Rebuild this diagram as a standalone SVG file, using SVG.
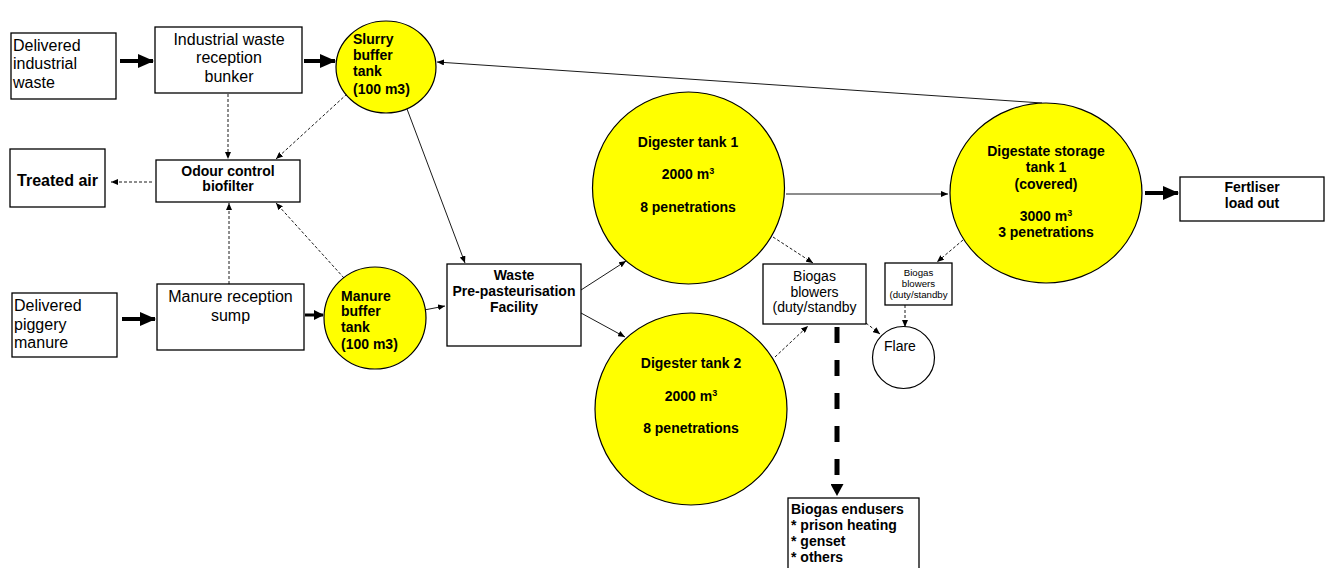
<svg xmlns="http://www.w3.org/2000/svg" width="1328" height="568" viewBox="0 0 1328 568">
<style>
.box{fill:#fff;stroke:#000;stroke-width:1.3}
.tank{fill:#ffff00;stroke:#000;stroke-width:1.2}
.flare{fill:#fff;stroke:#000;stroke-width:1.2}
text{font-family:"Liberation Sans",Arial,sans-serif;fill:#000}
.r16{font-size:16px}
.r14{font-size:14px}
.b14{font-size:14px;font-weight:bold}
.b16{font-size:16px;font-weight:bold}
.sm{font-size:9.7px}
.thick{stroke:#000;stroke-width:4;fill:none}
.mid{stroke:#000;stroke-width:3;fill:none}
.thin{stroke:#000;stroke-width:0.9;fill:none}
.dash{stroke:#000;stroke-width:0.9;fill:none;stroke-dasharray:3 2}
.bigdash{stroke:#000;stroke-width:5;fill:none;stroke-dasharray:16 17}
</style>
<defs>
<marker id="big" markerUnits="userSpaceOnUse" markerWidth="16" markerHeight="14" refX="15" refY="7" orient="auto"><path d="M0,0 L16,7 L0,14 Z" fill="#000"/></marker>
<marker id="med" markerUnits="userSpaceOnUse" markerWidth="10" markerHeight="10" refX="9" refY="5" orient="auto"><path d="M0,0 L10,5 L0,10 Z" fill="#000"/></marker>
<marker id="sm" markerUnits="userSpaceOnUse" markerWidth="7" markerHeight="6" refX="7" refY="3" orient="auto"><path d="M0,0 L7,3 L0,6 Z" fill="#000"/></marker>
<marker id="tri" markerUnits="userSpaceOnUse" markerWidth="13" markerHeight="13" refX="1" refY="6.5" orient="auto"><path d="M0,0 L12,6.5 L0,13 Z" fill="#000"/></marker>
</defs>

<g id="connectors">
<line class="thick" x1="120" y1="61" x2="153" y2="61" marker-end="url(#big)"/>
<line class="thick" x1="304" y1="61" x2="335" y2="61" marker-end="url(#big)"/>
<line class="thick" x1="122" y1="319" x2="155" y2="319" marker-end="url(#big)"/>
<line class="mid" x1="305" y1="315" x2="323" y2="315" marker-end="url(#med)"/>
<line class="thick" x1="1145" y1="193" x2="1178" y2="193" marker-end="url(#big)"/>
<line class="dash" x1="228" y1="94" x2="228" y2="159" marker-end="url(#sm)"/>
<line class="dash" x1="347" y1="94" x2="276" y2="159" marker-end="url(#sm)"/>
<line class="dash" x1="152" y1="182" x2="111" y2="182" marker-end="url(#sm)"/>
<line class="dash" x1="229" y1="284" x2="229" y2="203" marker-end="url(#sm)"/>
<line class="dash" x1="344" y1="278" x2="276" y2="203" marker-end="url(#sm)"/>
<line class="thin" x1="404" y1="101" x2="465" y2="263" marker-end="url(#sm)"/>
<line class="thin" x1="419" y1="311" x2="445" y2="306" marker-end="url(#sm)"/>
<line class="thin" x1="581" y1="290" x2="626" y2="261" marker-end="url(#sm)"/>
<line class="thin" x1="581" y1="313" x2="625" y2="337" marker-end="url(#sm)"/>
<line class="thin" x1="786" y1="194" x2="948" y2="194" marker-end="url(#sm)"/>
<line class="thin" x1="1042" y1="103" x2="437" y2="62" marker-end="url(#sm)"/>
<line class="dash" x1="773" y1="237" x2="813" y2="263" marker-end="url(#sm)"/>
<line class="dash" x1="775" y1="357" x2="808" y2="326" marker-end="url(#sm)"/>
<line class="dash" x1="866" y1="323" x2="880" y2="334" marker-end="url(#sm)"/>
<line class="dash" x1="905" y1="305" x2="905" y2="327" marker-end="url(#sm)"/>
<line class="dash" x1="963" y1="240" x2="937" y2="262" marker-end="url(#sm)"/>
<line class="bigdash" x1="837" y1="327" x2="837" y2="485" marker-end="url(#tri)"/>
</g>

<g id="delivered-industrial-waste">
<rect class="box" x="11" y="33" width="105" height="66"/>
<text class="r16" x="13" y="51">Delivered</text>
<text class="r16" x="13" y="69">industrial</text>
<text class="r16" x="13" y="88">waste</text>
</g>

<g id="industrial-waste-bunker">
<rect class="box" x="155" y="27" width="147" height="66"/>
<text class="r16" x="229" y="45" text-anchor="middle">Industrial waste</text>
<text class="r16" x="229" y="63" text-anchor="middle">reception</text>
<text class="r16" x="229" y="82" text-anchor="middle">bunker</text>
</g>

<g id="slurry-buffer-tank">
<ellipse class="tank" cx="386" cy="67" rx="50" ry="46"/>
<text class="b14" x="353" y="44">Slurry</text>
<text class="b14" x="353" y="60">buffer</text>
<text class="b14" x="353" y="76">tank</text>
<text class="b14" x="353" y="94">(100 m3)</text>
</g>

<g id="treated-air">
<rect class="box" x="10" y="149" width="95" height="58"/>
<text class="b16" x="57.5" y="186" text-anchor="middle">Treated air</text>
</g>

<g id="odour-control-biofilter">
<rect class="box" x="156" y="160" width="144" height="42"/>
<text class="b14" x="228" y="176" text-anchor="middle">Odour control</text>
<text class="b14" x="228" y="191" text-anchor="middle">biofilter</text>
</g>

<g id="delivered-piggery-manure">
<rect class="box" x="12" y="293" width="105" height="64"/>
<text class="r16" x="14" y="311">Delivered</text>
<text class="r16" x="14" y="330">piggery</text>
<text class="r16" x="14" y="348">manure</text>
</g>

<g id="manure-reception-sump">
<rect class="box" x="157" y="284" width="147" height="66"/>
<text class="r16" x="230.5" y="302" text-anchor="middle">Manure reception</text>
<text class="r16" x="230.5" y="321" text-anchor="middle">sump</text>
</g>

<g id="manure-buffer-tank">
<ellipse class="tank" cx="375" cy="318" rx="51" ry="51"/>
<text class="b14" x="341" y="301">Manure</text>
<text class="b14" x="341" y="316">buffer</text>
<text class="b14" x="341" y="332">tank</text>
<text class="b14" x="341" y="349">(100 m3)</text>
</g>

<g id="waste-pre-pasteurisation">
<rect class="box" x="447" y="264" width="134" height="82"/>
<text class="b14" x="514" y="280" text-anchor="middle">Waste</text>
<text class="b14" x="514" y="296" text-anchor="middle">Pre-pasteurisation</text>
<text class="b14" x="514" y="312" text-anchor="middle">Facility</text>
</g>

<g id="digester-tank-1">
<circle class="tank" cx="688.5" cy="188" r="96"/>
<text class="b14" x="688" y="147" text-anchor="middle">Digester tank 1</text>
<text class="b14" x="688" y="179" text-anchor="middle">2000 m<tspan font-size="9" dy="-5">3</tspan></text>
<text class="b14" x="688" y="212" text-anchor="middle">8 penetrations</text>
</g>

<g id="digester-tank-2">
<circle class="tank" cx="691" cy="409" r="96"/>
<text class="b14" x="691" y="368" text-anchor="middle">Digester tank 2</text>
<text class="b14" x="691" y="401" text-anchor="middle">2000 m<tspan font-size="9" dy="-5">3</tspan></text>
<text class="b14" x="691" y="433" text-anchor="middle">8 penetrations</text>
</g>

<g id="digestate-storage-tank">
<ellipse class="tank" cx="1046" cy="193" rx="96" ry="90"/>
<text class="b14" x="1046" y="156" text-anchor="middle">Digestate storage</text>
<text class="b14" x="1046" y="172" text-anchor="middle">tank 1</text>
<text class="b14" x="1046" y="189" text-anchor="middle">(covered)</text>
<text class="b14" x="1046" y="221" text-anchor="middle">3000 m<tspan font-size="9" dy="-5">3</tspan></text>
<text class="b14" x="1046" y="237" text-anchor="middle">3 penetrations</text>
</g>

<g id="fertiliser-load-out">
<rect class="box" x="1180" y="177" width="144" height="44"/>
<text class="b14" x="1252" y="192" text-anchor="middle">Fertliser</text>
<text class="b14" x="1252" y="208" text-anchor="middle">load out</text>
</g>

<g id="biogas-blowers-1">
<rect class="box" x="763" y="264" width="103" height="60"/>
<text class="r14" x="814.5" y="281" text-anchor="middle">Biogas</text>
<text class="r14" x="814.5" y="297" text-anchor="middle">blowers</text>
<text class="r14" x="814.5" y="312" text-anchor="middle">(duty/standby</text>
</g>

<g id="biogas-blowers-2">
<rect class="box" x="885" y="263" width="67" height="42"/>
<text class="sm" x="918.5" y="275.5" text-anchor="middle">Biogas</text>
<text class="sm" x="918.5" y="287" text-anchor="middle">blowers</text>
<text class="sm" x="918.5" y="298" text-anchor="middle">(duty/standby</text>
</g>

<g id="flare">
<circle class="flare" cx="903.5" cy="357.5" r="31"/>
<text class="r14" x="884" y="351">Flare</text>
</g>

<g id="biogas-endusers">
<rect class="box" x="788" y="498" width="131" height="80"/>
<text class="b14" x="791" y="514">Biogas endusers</text>
<text class="b14" x="791" y="530">* prison heating</text>
<text class="b14" x="791" y="546">* genset</text>
<text class="b14" x="791" y="562">* others</text>
</g>
</svg>
